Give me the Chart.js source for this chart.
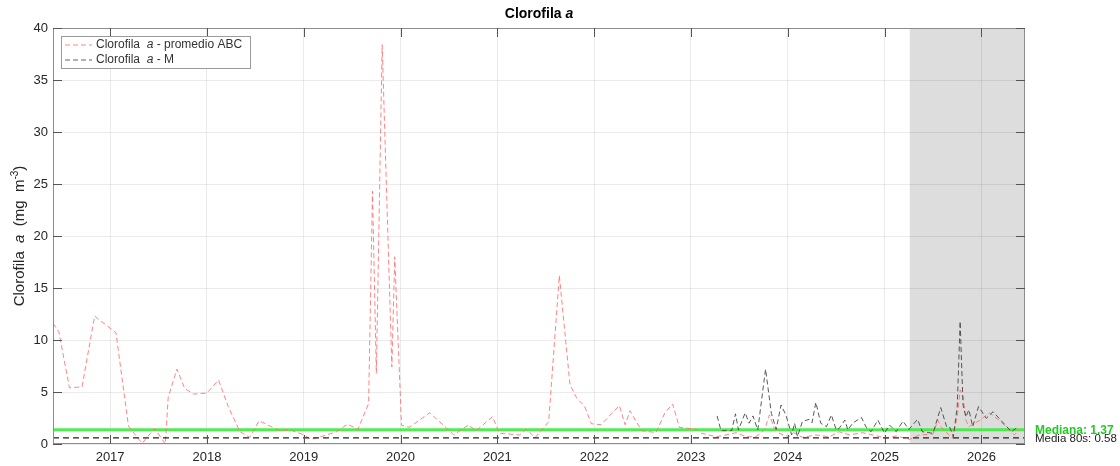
<!DOCTYPE html>
<html>
<head>
<meta charset="utf-8">
<script src="https://cdn.jsdelivr.net/npm/chart.js@4"></script>
<style>
  body { margin: 0; background: #fff; }
  #wrap { width: 1120px; height: 466px; }
</style>
</head>
<body>
<div id="wrap"><canvas id="chl"></canvas></div>
<script>
// Clorofila a - promedio ABC (decimal year, mg m-3)
let abcYears = [2016.41, 2016.47, 2016.58, 2016.71, 2016.84, 2017.06, 2017.19, 2017.33, 2017.46, 2017.57,
  2017.60, 2017.69, 2017.77, 2017.86, 2018.00, 2018.12, 2018.22, 2018.34, 2018.44, 2018.54,
  2018.65, 2018.75, 2018.86, 2018.98, 2019.08, 2019.20, 2019.34, 2019.45, 2019.56, 2019.67,
  2019.71, 2019.75, 2019.81, 2019.91, 2019.94, 2020.01, 2020.09, 2020.30, 2020.44, 2020.55,
  2020.70, 2020.78, 2020.95, 2021.02, 2021.23, 2021.30, 2021.39, 2021.53, 2021.64, 2021.75,
  2021.82, 2021.90, 2021.97, 2022.07, 2022.26, 2022.32, 2022.37, 2022.49, 2022.64, 2022.73,
  2022.81, 2022.88, 2023.04, 2023.11, 2023.26, 2023.36, 2023.47, 2023.57, 2023.67, 2023.76,
  2023.81, 2023.86, 2023.91, 2024.01, 2024.06, 2024.15, 2024.29, 2024.43, 2024.53, 2024.64,
  2024.77, 2024.88, 2025.02, 2025.12, 2025.26, 2025.36, 2025.50, 2025.55, 2025.58, 2025.70,
  2025.75, 2025.78, 2025.81, 2025.84, 2025.87, 2025.93, 2025.99, 2026.08, 2026.18, 2026.29,
  2026.34, 2026.39];
let abcValues = [11.6, 10.8, 5.4, 5.5, 12.3, 10.7, 1.7, 0.07, 1.5, 0.0,
  4.5, 7.2, 5.35, 4.8, 4.9, 6.15, 3.6, 1.2, 0.64, 2.24,
  1.73, 1.28, 1.35, 0.96, 0.45, 0.77, 1.18, 1.9, 1.41, 3.9,
  24.3, 6.8, 38.4, 7.4, 18.0, 1.8, 1.6, 3.0, 1.83, 0.87,
  1.83, 1.28, 2.63, 1.03, 0.87, 1.41, 0.61, 2.15, 16.2, 5.7,
  4.4, 3.65, 1.95, 1.85, 3.7, 1.85, 3.2, 1.27, 1.1, 3.0,
  3.85, 1.6, 1.44, 1.03, 0.7, 0.87, 1.09, 0.7, 0.7, 1.35,
  2.8, 1.5, 1.03, 0.7, 1.09, 0.64, 0.87, 0.7, 1.18, 0.87,
  1.09, 0.87, 0.55, 0.77, 0.45, 0.87, 0.96, 2.3, 1.67, 0.55,
  2.6, 5.2, 4.55, 2.3, 1.67, 2.0, 2.3, 3.0, 2.3, 1.35,
  0.87, 1.35];

// Clorofila a - M
let mYears = [2023.27, 2023.31, 2023.42, 2023.46, 2023.49, 2023.56, 2023.60, 2023.64, 2023.69, 2023.77,
  2023.83, 2023.88, 2023.93, 2023.98, 2024.04, 2024.07, 2024.10, 2024.15, 2024.22, 2024.25,
  2024.29, 2024.34, 2024.40, 2024.45, 2024.50, 2024.53, 2024.59, 2024.62, 2024.67, 2024.76,
  2024.81, 2024.86, 2024.93, 2025.00, 2025.05, 2025.12, 2025.19, 2025.25, 2025.34, 2025.39,
  2025.50, 2025.58, 2025.64, 2025.67, 2025.71, 2025.75, 2025.78, 2025.81, 2025.84, 2025.87,
  2025.91, 2025.97, 2026.05, 2026.12, 2026.31, 2026.38];
let mValues = [2.7, 1.28, 1.28, 2.9, 1.35, 3.0, 2.0, 2.7, 1.35, 7.2,
  2.95, 1.41, 3.75, 2.8, 0.87, 2.0, 0.7, 2.15, 2.37, 2.05,
  4.0, 2.0, 1.67, 2.8, 1.35, 1.5, 2.3, 1.35, 2.0, 2.56,
  1.6, 1.18, 2.3, 1.03, 1.83, 1.18, 2.2, 1.4, 2.37, 1.18,
  1.03, 3.5, 1.67, 1.67, 0.7, 3.6, 11.8, 3.75, 2.6, 3.3,
  1.67, 3.6, 2.47, 3.1, 1.18, 1.67];

// reference levels
let median = 1.37;
let mean80s = 0.58;

// axes
let xMin = 2016.41, xMax = 2026.45;
let yearTicks = [2017, 2018, 2019, 2020, 2021, 2022, 2023, 2024, 2025, 2026];
let shadeStart = 2025.26;

const FONT = '"Liberation Sans", Helvetica, Arial, sans-serif';

function pairs(xs, ys) {
    return xs.map(function(x, i) { return { x: x, y: ys[i] }; });
}

// draw a run of text pieces with different fonts
function drawRich(ctx, parts, x, y, align) {
    let total = 0;
    parts.forEach(function(p) { ctx.font = p.font; total += ctx.measureText(p.t).width; });
    let cx = align === 'center' ? x - total / 2 : x;
    parts.forEach(function(p) {
        ctx.font = p.font;
        ctx.fillText(p.t, cx, y + (p.dy || 0));
        cx += ctx.measureText(p.t).width;
    });
}

const decor = {
    id: 'decor',
    beforeDraw(chart) {
        let ctx = chart.ctx, a = chart.chartArea, xs = chart.scales.x;
        let sx = xs.getPixelForValue(shadeStart);
        ctx.save();
        ctx.fillStyle = '#dddddd';
        ctx.fillRect(sx, a.top, a.right - sx, a.bottom - a.top);
        ctx.restore();
    },
    afterDraw(chart) {
        let ctx = chart.ctx, a = chart.chartArea, xs = chart.scales.x, ys = chart.scales.y;
        ctx.save();

        // box and inward ticks
        ctx.strokeStyle = '#8c8c8c';
        ctx.lineWidth = 1;
        ctx.strokeRect(a.left + 0.5, a.top + 0.5, a.right - a.left - 1, a.bottom - a.top - 1);
        ctx.strokeStyle = '#555';
        ctx.beginPath();
        yearTicks.forEach(function(v) {
            let px = Math.round(xs.getPixelForValue(v)) + 0.5;
            ctx.moveTo(px, a.bottom); ctx.lineTo(px, a.bottom - 9);
            ctx.moveTo(px, a.top); ctx.lineTo(px, a.top + 9);
        });
        ys.ticks.forEach(function(t) {
            let py = Math.round(ys.getPixelForValue(t.value)) + 0.5;
            ctx.moveTo(a.left, py); ctx.lineTo(a.left + 9, py);
            ctx.moveTo(a.right, py); ctx.lineTo(a.right - 9, py);
        });
        ctx.stroke();

        // title
        ctx.fillStyle = '#000';
        ctx.textBaseline = 'middle';
        drawRich(ctx, [
            { t: 'Clorofila ', font: 'bold 14px ' + FONT },
            { t: 'a', font: 'italic bold 14px ' + FONT }
        ], (a.left + a.right) / 2, 14, 'center');

        // y axis label
        ctx.save();
        ctx.translate(20, (a.top + a.bottom) / 2);
        ctx.rotate(-Math.PI / 2);
        ctx.fillStyle = '#262626';
        drawRich(ctx, [
            { t: 'Clorofila  ', font: '15px ' + FONT },
            { t: 'a', font: 'italic 15px ' + FONT },
            { t: '  (mg  m', font: '15px ' + FONT },
            { t: '-3', font: '10px ' + FONT, dy: -5 },
            { t: ')', font: '15px ' + FONT }
        ], 0, 0, 'center');
        ctx.restore();

        // legend
        let lx = 61, ly = 36, lw = 189, lh = 32;
        ctx.fillStyle = '#fff';
        ctx.fillRect(lx, ly, lw, lh);
        ctx.strokeStyle = '#9a9a9a';
        ctx.strokeRect(lx + 0.5, ly + 0.5, lw, lh);
        let rows = [
            { color: 'rgba(255,110,110,0.85)', rest: ' - promedio ABC' },
            { color: '#666', rest: ' - M' }
        ];
        rows.forEach(function(r, i) {
            let yy = ly + 9 + i * 15;
            ctx.strokeStyle = r.color;
            ctx.setLineDash([5, 3]);
            ctx.beginPath(); ctx.moveTo(lx + 4, yy); ctx.lineTo(lx + 31, yy); ctx.stroke();
            ctx.setLineDash([]);
            ctx.fillStyle = '#333';
            drawRich(ctx, [
                { t: 'Clorofila  ', font: '12px ' + FONT },
                { t: 'a', font: 'italic 12px ' + FONT },
                { t: r.rest, font: '12px ' + FONT }
            ], lx + 35, yy, 'left');
        });

        // right labels
        ctx.textAlign = 'left';
        ctx.font = 'bold 12px ' + FONT;
        ctx.fillStyle = '#22cc22';
        ctx.fillText('Mediana: 1.37', a.right + 10, ys.getPixelForValue(median) + 1);
        ctx.font = '11.5px ' + FONT;
        ctx.fillStyle = '#222';
        ctx.fillText('Media 80s: 0.58', a.right + 10, ys.getPixelForValue(mean80s) + 1);

        ctx.restore();
    }
};

let ctx = document.getElementById('chl').getContext('2d');
let chart = new Chart(ctx, {
    type: 'line',
    data: {
        datasets: [
            {
                label: 'Media 80s',
                data: [{ x: xMin, y: mean80s }, { x: xMax, y: mean80s }],
                borderColor: '#222',
                borderWidth: 1.2,
                borderDash: [6, 4]
            },
            {
                label: 'Clorofila a - M',
                data: pairs(mYears, mValues),
                borderColor: 'rgba(60,60,60,0.85)',
                borderWidth: 1,
                borderDash: [5, 3]
            },
            {
                label: 'Clorofila a - promedio ABC',
                data: pairs(abcYears, abcValues),
                borderColor: 'rgba(255,110,110,0.85)',
                borderWidth: 1,
                borderDash: [5, 3]
            },
            {
                label: 'Mediana',
                data: [{ x: xMin, y: median }, { x: xMax, y: median }],
                borderColor: 'rgba(60,235,60,0.9)',
                borderWidth: 3
            }
        ]
    },
    options: {
        responsive: true,
        maintainAspectRatio: false,
        animation: false,
        elements: { point: { radius: 0, hoverRadius: 0 }, line: { tension: 0 } },
        layout: { padding: { top: 28, right: 95, left: 0, bottom: 0 } },
        plugins: { legend: { display: false }, tooltip: { enabled: false }, title: { display: false } },
        scales: {
            x: {
                type: 'linear',
                min: xMin,
                max: xMax,
                afterBuildTicks: function(s) { s.ticks = yearTicks.map(function(v) { return { value: v }; }); },
                afterFit: function(s) { s.height = 22; },
                ticks: {
                    callback: function(v) { return String(v); },
                    font: { family: FONT, size: 13 },
                    color: '#262626',
                    padding: 6,
                    maxRotation: 0
                },
                grid: { color: 'rgba(0,0,0,0.08)', drawTicks: false },
                border: { display: false }
            },
            y: {
                min: 0,
                max: 40,
                afterFit: function(s) { s.width = 53; },
                ticks: {
                    stepSize: 5,
                    font: { family: FONT, size: 13 },
                    color: '#262626',
                    padding: 5
                },
                grid: { color: 'rgba(0,0,0,0.08)', drawTicks: false },
                border: { display: false }
            }
        }
    },
    plugins: [decor]
});
</script>
</body>
</html>
